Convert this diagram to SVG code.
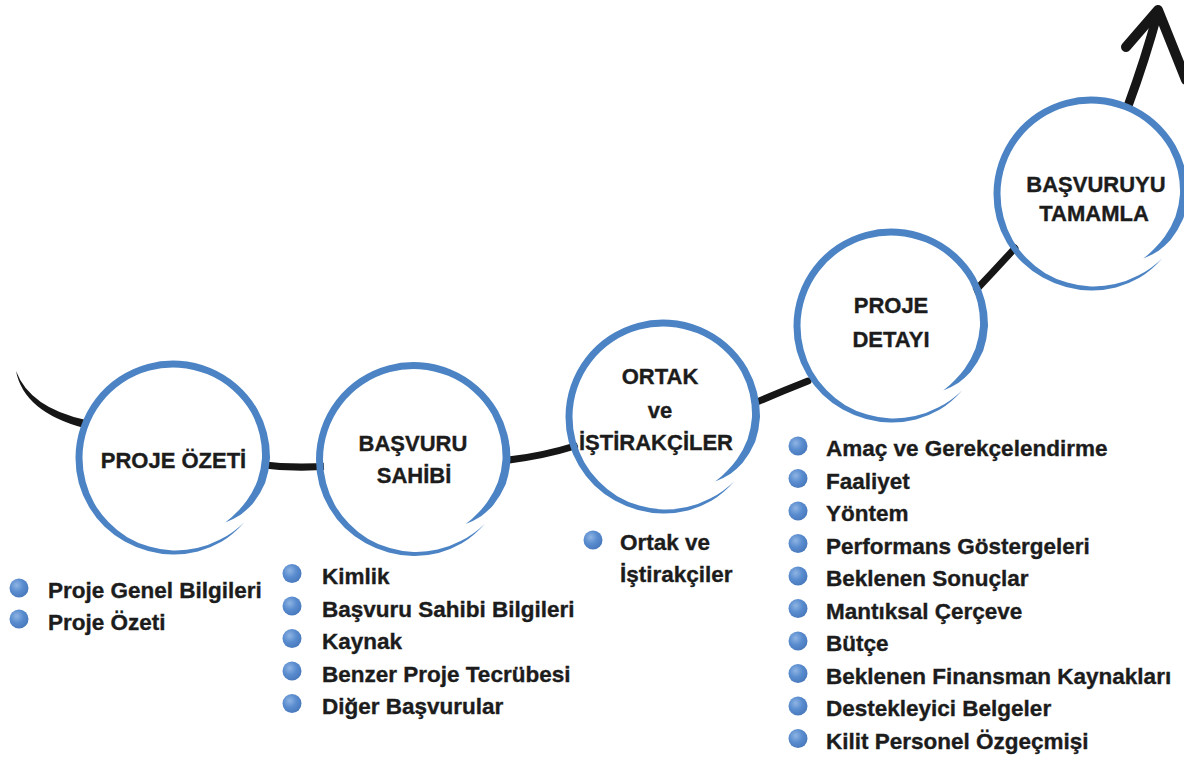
<svg xmlns="http://www.w3.org/2000/svg" xmlns:xlink="http://www.w3.org/1999/xlink" width="1184" height="762" viewBox="0 0 1184 762">
<style>
.lbl{font-family:"Liberation Sans",Arial,sans-serif;font-weight:bold;font-size:22px;fill:#1c1c1c;stroke:#1c1c1c;stroke-width:0.35;text-anchor:middle}
.item{font-family:"Liberation Sans",Arial,sans-serif;font-weight:bold;font-size:22.5px;fill:#1c1c1c;stroke:#1c1c1c;stroke-width:0.35}
.ring{fill:#4b83c4}
.bg{fill:#ffffff}
.con{fill:none;stroke:#161616;stroke-width:7;stroke-linecap:round}
.dot{fill:url(#dotg)}
</style>
<defs>
<radialGradient id="dotg" cx="0.38" cy="0.35" r="0.7">
<stop offset="0" stop-color="#8fb4e3"/>
<stop offset="0.5" stop-color="#5a8dcf"/>
<stop offset="1" stop-color="#4677bb"/>
</radialGradient>
<path id="ring" class="ring" d="M71.3 64.2 A96.75 96.75 0 0 1 48.4 83.8 A96.75 96.75 0 0 1 25 93.5 A96.5 96.5 0 0 1 0 96.5 A96.25 96.25 0 0 1 -24.9 93 A96.5 96.5 0 0 1 -48.25 83.6 A97 97 0 0 1 -68.6 68.6 A97.25 97.25 0 0 1 -84.2 48.6 A97.5 97.5 0 0 1 -94.2 25.2 A97.5 97.5 0 0 1 -97.5 0 A97.5 97.5 0 0 1 84.4 -48.75 A97.25 97.25 0 0 1 93.9 -25.2 A97 97 0 0 1 97 0 A95.5 95.5 0 0 1 92.2 24.7 A91.75 91.75 0 0 1 79.5 45.9 A88.25 88.25 0 0 1 67.6 56.7 A85 85 0 0 1 52.2 64.5 A84 84 0 0 0 64.2 53.8 A85 85 0 0 0 73.8 42.6 A87 87 0 0 0 84.5 22.6 A89 89 0 0 0 89 0 A89.5 89.5 0 0 0 86.7 -23.2 A90 90 0 0 0 78.4 -45.25 A90.5 90.5 0 0 0 -90.5 0 A90.5 90.5 0 0 0 -87.4 23.4 A90.6 90.6 0 0 0 -78.6 45.4 A91 91 0 0 0 -64.3 64.3 A91.5 91.5 0 0 0 -45.75 79.2 A91.75 91.75 0 0 0 -23.7 88.6 A92.5 92.5 0 0 0 0 92.5 A93 93 0 0 0 24.1 90.1 A94 94 0 0 0 47.1 81.6 A95 95 0 0 0 71.3 64.2 Z"/>
</defs>
<rect width="1184" height="762" fill="#ffffff"/>
<g id="connectors">
<path d="M16 371 Q30 408 86 420 L84 428 Q24 412 16 371 Z" fill="#161616"/>
<path class="con" d="M255 464 Q292 469 330 466"/>
<path class="con" d="M500 461 Q540 457 575 446"/>
<path class="con" d="M750 405 Q780 392 808 381"/>
<path class="con" d="M975 291 Q995 270 1015 248"/>
<path class="con" style="stroke-width:9" d="M1128 106 Q1145 60 1158 12"/>
<path class="con" style="stroke-width:10;stroke-linejoin:round" d="M1126 47 L1158 10 L1186 80"/>
</g>
<g id="node1">
<circle class="bg" cx="173" cy="458" r="90"/>
<use xlink:href="#ring" href="#ring" x="173" y="458"/>
<text class="lbl" x="173.5" y="468">PROJE ÖZETİ</text>
</g>
<g id="node2">
<circle class="bg" cx="413.5" cy="459.5" r="90"/>
<use xlink:href="#ring" href="#ring" x="413.5" y="459.5"/>
<text class="lbl" x="413" y="451">BAŞVURU</text>
<text class="lbl" x="414" y="483">SAHİBİ</text>
</g>
<g id="node3">
<circle class="bg" cx="663" cy="417" r="90"/>
<use xlink:href="#ring" href="#ring" x="663" y="417"/>
<text class="lbl" x="660" y="384">ORTAK</text>
<text class="lbl" x="660" y="418">ve</text>
<text class="lbl" x="656" y="450">İŞTİRAKÇİLER</text>
</g>
<g id="node4">
<circle class="bg" cx="891" cy="326" r="90"/>
<use xlink:href="#ring" href="#ring" x="891" y="326"/>
<text class="lbl" x="891" y="313">PROJE</text>
<text class="lbl" x="891" y="347">DETAYI</text>
</g>
<g id="node5">
<circle class="bg" cx="1091" cy="194" r="90"/>
<use xlink:href="#ring" href="#ring" x="1091" y="194"/>
<text class="lbl" x="1096" y="192">BAŞVURUYU</text>
<text class="lbl" x="1094" y="221">TAMAMLA</text>
</g>
<g id="list1">
<circle class="dot" cx="19" cy="588" r="9.5"/>
<text class="item" x="48" y="598">Proje Genel Bilgileri</text>
<circle class="dot" cx="19" cy="619" r="9.5"/>
<text class="item" x="48" y="630">Proje Özeti</text>
</g>
<g id="list2">
<circle class="dot" cx="292" cy="573.5" r="9.5"/>
<text class="item" x="322" y="584">Kimlik</text>
<circle class="dot" cx="292" cy="606" r="9.5"/>
<text class="item" x="322" y="616.5">Başvuru Sahibi Bilgileri</text>
<circle class="dot" cx="292" cy="638.5" r="9.5"/>
<text class="item" x="322" y="649">Kaynak</text>
<circle class="dot" cx="292" cy="671" r="9.5"/>
<text class="item" x="322" y="681.5">Benzer Proje Tecrübesi</text>
<circle class="dot" cx="292" cy="703.5" r="9.5"/>
<text class="item" x="322" y="714">Diğer Başvurular</text>
</g>
<g id="list3">
<circle class="dot" cx="593" cy="540" r="9.5"/>
<text class="item" x="620" y="550">Ortak ve</text>
<text class="item" x="620" y="582">İştirakçiler</text>
</g>
<g id="list4">
<circle class="dot" cx="798" cy="446" r="9.5"/>
<text class="item" x="826" y="456">Amaç ve Gerekçelendirme</text>
<circle class="dot" cx="798" cy="478.5" r="9.5"/>
<text class="item" x="826" y="488.5">Faaliyet</text>
<circle class="dot" cx="798" cy="511" r="9.5"/>
<text class="item" x="826" y="521">Yöntem</text>
<circle class="dot" cx="798" cy="543.5" r="9.5"/>
<text class="item" x="826" y="553.5">Performans Göstergeleri</text>
<circle class="dot" cx="798" cy="576" r="9.5"/>
<text class="item" x="826" y="586">Beklenen Sonuçlar</text>
<circle class="dot" cx="798" cy="608.5" r="9.5"/>
<text class="item" x="826" y="618.5">Mantıksal Çerçeve</text>
<circle class="dot" cx="798" cy="641" r="9.5"/>
<text class="item" x="826" y="651">Bütçe</text>
<circle class="dot" cx="798" cy="673.5" r="9.5"/>
<text class="item" x="826" y="683.5">Beklenen Finansman Kaynakları</text>
<circle class="dot" cx="798" cy="706" r="9.5"/>
<text class="item" x="826" y="716">Destekleyici Belgeler</text>
<circle class="dot" cx="798" cy="738.5" r="9.5"/>
<text class="item" x="826" y="748.5">Kilit Personel Özgeçmişi</text>
</g>
</svg>
